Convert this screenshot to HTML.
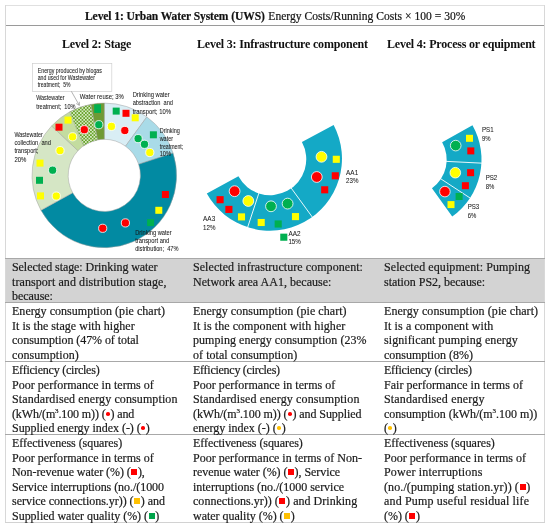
<!DOCTYPE html>
<html><head><meta charset="utf-8">
<style>
html,body{margin:0;padding:0;background:#fff;}
body{width:550px;height:528px;position:relative;overflow:hidden;font-family:"Liberation Serif",serif;color:#1a1a1a;}
.hl{position:absolute;height:1px;}
.vl{position:absolute;width:1px;}
.t{position:absolute;font-size:12px;line-height:14.5px;white-space:nowrap;will-change:transform;-webkit-text-stroke:0.2px #1a1a1a;}
.h{position:absolute;font-weight:bold;font-size:12px;letter-spacing:-0.2px;white-space:nowrap;color:#111;will-change:transform}
.d{display:inline-block;width:3.6px;height:3.6px;border-radius:50%;vertical-align:2px;margin:0 0.7px;}
.s{display:inline-block;width:6px;height:6px;vertical-align:1px;margin:0 0.6px;}
.r{background:#f00;} .y{background:#ffc000;} .g{background:#00a44a;}
svg{position:absolute;left:0;top:0;}
</style></head><body>
<!-- table lines -->
<div class="hl" style="left:5px;top:5px;width:540px;background:#e0e0e0"></div>
<div class="hl" style="left:5px;top:25px;width:540px;background:#9a9a9a"></div>
<div class="vl" style="left:5px;top:5px;height:518px;background:#d8d8d8"></div>
<div class="vl" style="left:544px;top:5px;height:518px;background:#d8d8d8"></div>
<div style="position:absolute;left:6px;top:258px;width:538px;height:44px;background:#d3d3d3;"></div>
<div class="hl" style="left:5px;top:258px;width:540px;background:#a8a8a8"></div>
<div class="hl" style="left:5px;top:302px;width:540px;background:#a8a8a8"></div>
<div class="hl" style="left:5px;top:361px;width:540px;background:#a8a8a8"></div>
<div class="hl" style="left:5px;top:434px;width:540px;background:#a8a8a8"></div>
<div class="hl" style="left:5px;top:522px;width:540px;background:#d2d2d2"></div>

<!-- header -->
<div class="t" style="left:85px;top:9px;font-size:11.55px;color:#111"><b style="letter-spacing:-0.09px">Level 1: Urban Water System (UWS)</b><span style="letter-spacing:0.02px;margin-left:0.7px"> Energy Costs/Running Costs × 100 = 30%</span></div>
<div class="h" style="left:62px;top:36.5px;">Level 2: Stage</div>
<div class="h" style="left:197px;top:36.5px;">Level 3: Infrastructure component</div>
<div class="h" style="left:387px;top:36.5px;">Level 4: Process or equipment</div>

<!-- table text -->
<div class="t" style="left:11.5px;top:260.0px;letter-spacing:-0.069px">Selected stage: Drinking water</div>
<div class="t" style="left:11.5px;top:274.5px;letter-spacing:0.078px">transport and distribution stage,</div>
<div class="t" style="left:11.5px;top:289.0px;letter-spacing:-0.057px">because:</div>
<div class="t" style="left:192.75px;top:260.0px;letter-spacing:0.061px">Selected infrastructure component:</div>
<div class="t" style="left:192.75px;top:274.5px;letter-spacing:0.020px">Network area AA1, because:</div>
<div class="t" style="left:383.5px;top:260.0px;letter-spacing:0.077px">Selected equipment: Pumping</div>
<div class="t" style="left:383.5px;top:274.5px;letter-spacing:-0.025px">station PS2, because:</div>
<div class="t" style="left:11.5px;top:304.0px;letter-spacing:0.034px">Energy consumption (pie chart)</div>
<div class="t" style="left:11.5px;top:318.5px;letter-spacing:0.038px">It is the stage with higher</div>
<div class="t" style="left:11.5px;top:333.0px;letter-spacing:-0.062px">consumption (47% of total</div>
<div class="t" style="left:11.5px;top:347.5px;letter-spacing:0.073px">consumption)</div>
<div class="t" style="left:192.75px;top:304.0px;letter-spacing:0.052px">Energy consumption (pie chart)</div>
<div class="t" style="left:192.75px;top:318.5px;letter-spacing:0.067px">It is the component with higher</div>
<div class="t" style="left:192.75px;top:333.0px;letter-spacing:0.050px">pumping energy consumption (23%</div>
<div class="t" style="left:192.75px;top:347.5px;letter-spacing:0.050px">of total consumption)</div>
<div class="t" style="left:383.5px;top:304.0px;letter-spacing:0.069px">Energy consumption (pie chart)</div>
<div class="t" style="left:383.5px;top:318.5px;letter-spacing:0.095px">It is a component with</div>
<div class="t" style="left:383.5px;top:333.0px;letter-spacing:0.080px">significant pumping energy</div>
<div class="t" style="left:383.5px;top:347.5px;letter-spacing:0.000px">consumption (8%)</div>
<div class="t" style="left:11.5px;top:363.0px;letter-spacing:-0.232px">Efficiency (circles)</div>
<div class="t" style="left:11.5px;top:377.5px;letter-spacing:0.019px">Poor performance in terms of</div>
<div class="t" style="left:11.5px;top:392.0px;letter-spacing:0.100px">Standardised energy consumption</div>
<div class="t" style="left:11.5px;top:406.5px;letter-spacing:-0.127px">(kWh/(m<sup style="font-size:7px;line-height:0">3</sup>.100 m)) (<span class="d r"></span>) and</div>
<div class="t" style="left:11.5px;top:421.0px;letter-spacing:-0.037px">Supplied energy index (-) (<span class="d r"></span>)</div>
<div class="t" style="left:192.75px;top:363.0px;letter-spacing:-0.263px">Efficiency (circles)</div>
<div class="t" style="left:192.75px;top:377.5px;letter-spacing:0.037px">Poor performance in terms of</div>
<div class="t" style="left:192.75px;top:392.0px;letter-spacing:0.133px">Standardised energy consumption</div>
<div class="t" style="left:192.75px;top:406.5px;letter-spacing:-0.077px">(kWh/(m<sup style="font-size:7px;line-height:0">3</sup>.100 m)) (<span class="d r"></span>) and Supplied</div>
<div class="t" style="left:192.75px;top:421.0px;letter-spacing:-0.022px">energy index (-) (<span class="d y"></span>)</div>
<div class="t" style="left:383.5px;top:363.0px;letter-spacing:-0.211px">Efficiency (circles)</div>
<div class="t" style="left:383.5px;top:377.5px;letter-spacing:0.037px">Fair performance in terms of</div>
<div class="t" style="left:383.5px;top:392.0px;letter-spacing:0.167px">Standardised energy</div>
<div class="t" style="left:383.5px;top:406.5px;letter-spacing:-0.022px">consumption (kWh/(m<sup style="font-size:7px;line-height:0">3</sup>.100 m))</div>
<div class="t" style="left:383.5px;top:421.0px;letter-spacing:-0.300px">(<span class="d y"></span>)</div>
<div class="t" style="left:11.5px;top:436.0px;letter-spacing:-0.055px">Effectiveness (squares)</div>
<div class="t" style="left:11.5px;top:450.5px;letter-spacing:0.015px">Poor performance in terms of</div>
<div class="t" style="left:11.5px;top:465.0px;letter-spacing:-0.067px">Non-revenue water (%) (<span class="s r"></span>),</div>
<div class="t" style="left:11.5px;top:479.5px;letter-spacing:-0.052px">Service interruptions (no./(1000</div>
<div class="t" style="left:11.5px;top:494.0px;letter-spacing:-0.027px">service connections.yr)) (<span class="s y"></span>) and</div>
<div class="t" style="left:11.5px;top:508.5px;letter-spacing:-0.021px">Supplied water quality (%) (<span class="s g"></span>)</div>
<div class="t" style="left:192.75px;top:436.0px;letter-spacing:-0.073px">Effectiveness (squares)</div>
<div class="t" style="left:192.75px;top:450.5px;letter-spacing:0.000px">Poor performance in terms of Non-</div>
<div class="t" style="left:192.75px;top:465.0px;letter-spacing:-0.064px">revenue water (%) (<span class="s r"></span>), Service</div>
<div class="t" style="left:192.75px;top:479.5px;letter-spacing:-0.019px">interruptions (no./(1000 service</div>
<div class="t" style="left:192.75px;top:494.0px;letter-spacing:0.032px">connections.yr)) (<span class="s r"></span>) and Drinking</div>
<div class="t" style="left:192.75px;top:508.5px;letter-spacing:-0.021px">water quality (%) (<span class="s y"></span>)</div>
<div class="t" style="left:383.5px;top:436.0px;letter-spacing:-0.027px">Effectiveness (squares)</div>
<div class="t" style="left:383.5px;top:450.5px;letter-spacing:0.030px">Poor performance in terms of</div>
<div class="t" style="left:383.5px;top:465.0px;letter-spacing:0.189px">Power interruptions</div>
<div class="t" style="left:383.5px;top:479.5px;letter-spacing:0.107px">(no./(pumping station.yr)) (<span class="s r"></span>)</div>
<div class="t" style="left:383.5px;top:494.0px;letter-spacing:0.157px">and Pump useful residual life</div>
<div class="t" style="left:383.5px;top:508.5px;letter-spacing:-0.050px">(%) (<span class="s r"></span>)</div>

<!-- CHARTS -->
<svg width="550" height="528" viewBox="0 0 550 528" style="position:absolute;left:0;top:0">
<defs><pattern id="chk" width="3.4" height="3.4" patternUnits="userSpaceOnUse">
<rect width="3.4" height="3.4" fill="#d8eac6"/><rect width="1.7" height="1.7" fill="#64a126"/><rect x="1.7" y="1.7" width="1.7" height="1.7" fill="#64a126"/></pattern></defs>
<path d="M104.30,103.10 A72.3,72.3 0 0 1 146.80,116.91 L125.52,146.19 A36.1,36.1 0 0 0 104.30,139.30 Z" fill="#d9eef5" stroke="#a0a0a0" stroke-width="0.5" />
<path d="M146.80,116.91 A72.3,72.3 0 0 1 173.06,153.06 L138.63,164.24 A36.1,36.1 0 0 0 125.52,146.19 Z" fill="#a9dbe8" stroke="#a0a0a0" stroke-width="0.5" />
<path d="M173.06,153.06 A72.3,72.3 0 0 1 40.94,210.23 L72.67,192.79 A36.1,36.1 0 0 0 138.63,164.24 Z" fill="#028aa2" stroke="#a0a0a0" stroke-width="0.5" />
<path d="M40.94,210.23 A72.3,72.3 0 0 1 51.60,125.91 L77.98,150.69 A36.1,36.1 0 0 0 72.67,192.79 Z" fill="#d5e6c5" stroke="#a0a0a0" stroke-width="0.5" />
<path d="M51.60,125.91 A72.3,72.3 0 0 1 90.75,104.38 L97.54,139.94 A36.1,36.1 0 0 0 77.98,150.69 Z" fill="#c3dc9f" stroke="#a0a0a0" stroke-width="0.5" />
<path d="M90.75,104.38 A72.3,72.3 0 0 1 104.30,103.10 L104.30,139.30 A36.1,36.1 0 0 0 97.54,139.94 Z" fill="#6f9a35" stroke="#a0a0a0" stroke-width="0.5" />
<path d="M69.69,111.92 A72.3,72.3 0 0 1 90.75,104.38 L97.54,139.94 A36.1,36.1 0 0 0 83.59,145.83 Z" fill="url(#chk)" stroke="#a0a0a0" stroke-width="0.4"/>
<rect x="112.70" y="107.60" width="7.0" height="7.0" fill="#00b050"/>
<rect x="122.50" y="109.80" width="7.0" height="7.0" fill="#ff0000"/>
<rect x="131.70" y="114.30" width="7.0" height="7.0" fill="#ffff00"/>
<circle cx="111.4" cy="126.4" r="4.1" fill="#ffff00" stroke="#fff" stroke-width="0.8"/>
<circle cx="124.8" cy="130.5" r="4.1" fill="#ff0000" stroke="#fff" stroke-width="0.8"/>
<rect x="149.90" y="131.30" width="7.0" height="7.0" fill="#00b050"/>
<circle cx="138.1" cy="138.6" r="4.1" fill="#00b050" stroke="#fff" stroke-width="0.8"/>
<circle cx="144.5" cy="144.3" r="4.1" fill="#00b050" stroke="#fff" stroke-width="0.8"/>
<circle cx="149.8" cy="152.5" r="4.1" fill="#ffff00" stroke="#fff" stroke-width="0.8"/>
<rect x="161.90" y="191.00" width="7.0" height="7.0" fill="#ff0000"/>
<rect x="155.30" y="206.80" width="7.0" height="7.0" fill="#ffff00"/>
<rect x="147.10" y="219.10" width="7.0" height="7.0" fill="#00b050"/>
<circle cx="125.4" cy="222.9" r="4.1" fill="#ff0000" stroke="#fff" stroke-width="0.8"/>
<circle cx="102.7" cy="228.3" r="4.1" fill="#ff0000" stroke="#fff" stroke-width="0.8"/>
<circle cx="60" cy="150.6" r="4.1" fill="#ffff00" stroke="#fff" stroke-width="0.8"/>
<rect x="36.50" y="159.60" width="7.0" height="7.0" fill="#ffff00"/>
<circle cx="52.6" cy="170.2" r="4.1" fill="#00b050" stroke="#fff" stroke-width="0.8"/>
<rect x="36.00" y="176.80" width="7.0" height="7.0" fill="#00b050"/>
<rect x="37.00" y="192.40" width="7.0" height="7.0" fill="#ffff00"/>
<circle cx="56.3" cy="196.1" r="4.1" fill="#ffff00" stroke="#fff" stroke-width="0.8"/>
<rect x="64.50" y="116.60" width="7.0" height="7.0" fill="#ffff00"/>
<rect x="55.50" y="123.70" width="7.0" height="7.0" fill="#ff0000"/>
<circle cx="72.6" cy="136.8" r="4.1" fill="#ffff00" stroke="#fff" stroke-width="0.8"/>
<circle cx="84.3" cy="129.7" r="4.1" fill="#ff0000" stroke="#fff" stroke-width="0.8"/>
<rect x="94.19999999999999" y="104.3" width="6.8" height="8.6" fill="#00b050"/>
<circle cx="98.8" cy="124.7" r="4.1" fill="#00b050" stroke="#fff" stroke-width="0.8"/>
<rect x="32.4" y="63.5" width="79.4" height="27.9" fill="#fff" stroke="#cfcfcf" stroke-width="0.7"/>
<line x1="71.4" y1="91.4" x2="79.3" y2="105.3" stroke="#808080" stroke-width="0.6"/><polyline points="76.2,103.5 79.3,105.3 79.4,101.8" fill="none" stroke="#808080" stroke-width="0.6"/>
<g font-family="Liberation Sans" fill="#1a1a1a" stroke="#1a1a1a" stroke-width="0.06">
<text x="37.7" y="72.5" font-size="6.6" textLength="64.2" lengthAdjust="spacingAndGlyphs">Energy produced by biogas</text>
<text x="37.7" y="79.6" font-size="6.6" textLength="57.2" lengthAdjust="spacingAndGlyphs">and used for Wastewater</text>
<text x="37.7" y="86.8" font-size="6.6" textLength="32.8" lengthAdjust="spacingAndGlyphs">treatment;&#160; 5%</text>
<text x="36.2" y="99.6" font-size="6.6" textLength="28.3" lengthAdjust="spacingAndGlyphs">Wastewater</text>
<text x="36.2" y="108.5" font-size="6.6" textLength="39.3" lengthAdjust="spacingAndGlyphs">treatment;&#160; 10%</text>
<text x="79.8" y="98.8" font-size="6.6" textLength="44.1" lengthAdjust="spacingAndGlyphs">Water reuse; 3%</text>
<text x="132.7" y="97.2" font-size="6.6" textLength="36.9" lengthAdjust="spacingAndGlyphs">Drinking water</text>
<text x="132.7" y="105.2" font-size="6.6" textLength="40.3" lengthAdjust="spacingAndGlyphs">abstraction&#160; and</text>
<text x="132.7" y="113.5" font-size="6.6" textLength="38.2" lengthAdjust="spacingAndGlyphs">transport; 10%</text>
<text x="159.7" y="133" font-size="6.6" textLength="20.1" lengthAdjust="spacingAndGlyphs">Drinking</text>
<text x="159.7" y="141.1" font-size="6.6" textLength="13.3" lengthAdjust="spacingAndGlyphs">water</text>
<text x="159.7" y="148.8" font-size="6.6" textLength="23.5" lengthAdjust="spacingAndGlyphs">treatment;</text>
<text x="159.7" y="156.3" font-size="6.6" textLength="11.2" lengthAdjust="spacingAndGlyphs">10%</text>
<text x="14.4" y="136.9" font-size="6.6" textLength="28.3" lengthAdjust="spacingAndGlyphs">Wastewater</text>
<text x="14.4" y="145" font-size="6.6" textLength="36.6" lengthAdjust="spacingAndGlyphs">collection&#160; and</text>
<text x="14.4" y="153.3" font-size="6.6" textLength="24" lengthAdjust="spacingAndGlyphs">transport;</text>
<text x="14.4" y="161.6" font-size="6.6" textLength="12" lengthAdjust="spacingAndGlyphs">20%</text>
<text x="135.2" y="234.6" font-size="6.6" textLength="36.5" lengthAdjust="spacingAndGlyphs">Drinking water</text>
<text x="135.2" y="243" font-size="6.6" textLength="34.1" lengthAdjust="spacingAndGlyphs">transport and</text>
<text x="135.2" y="251.2" font-size="6.6" textLength="43.3" lengthAdjust="spacingAndGlyphs">distribution;&#160; 47%</text>
</g>
<path d="M333.64,124.93 A72.1,72.1 0 0 1 206.80,193.51 L238.40,176.28 A36.1,36.1 0 0 0 301.92,141.94 Z" fill="#14a9c6" stroke="none" stroke-width="0.6" />
<line x1="312.77" y1="217.73" x2="291.03" y2="187.80" stroke="#ffffff" stroke-width="0.9"/>
<line x1="247.42" y1="227.97" x2="258.98" y2="192.82" stroke="#ffffff" stroke-width="0.9"/>
<circle cx="321.5" cy="156.8" r="5.4" fill="#ffff00" stroke="#fff" stroke-width="0.8"/>
<rect x="332.75" y="155.75" width="7.1" height="7.1" fill="#ffff00"/>
<circle cx="316.8" cy="177" r="5.4" fill="#ff0000" stroke="#fff" stroke-width="0.8"/>
<rect x="331.75" y="172.25" width="7.1" height="7.1" fill="#ff0000"/>
<rect x="321.15" y="186.25" width="7.1" height="7.1" fill="#ff0000"/>
<circle cx="271" cy="206.3" r="5.4" fill="#00b050" stroke="#fff" stroke-width="0.8"/>
<circle cx="287.6" cy="203.6" r="5.4" fill="#00b050" stroke="#fff" stroke-width="0.8"/>
<rect x="257.65" y="218.95" width="7.1" height="7.1" fill="#ffff00"/>
<rect x="274.65" y="220.45" width="7.1" height="7.1" fill="#00b050"/>
<rect x="291.95" y="213.05" width="7.1" height="7.1" fill="#ffff00"/>
<rect x="280.25" y="233.65" width="7.1" height="7.1" fill="#00b050"/>
<circle cx="234.6" cy="191.2" r="5.4" fill="#ff0000" stroke="#fff" stroke-width="0.8"/>
<circle cx="248.3" cy="201" r="5.4" fill="#ffff00" stroke="#fff" stroke-width="0.8"/>
<rect x="216.55" y="196.15" width="7.1" height="7.1" fill="#ff0000"/>
<rect x="225.35" y="205.85" width="7.1" height="7.1" fill="#ff0000"/>
<rect x="237.95" y="213.35" width="7.1" height="7.1" fill="#ffff00"/>
<path d="M472.47,125.19 A70.1,70.1 0 0 1 452.21,216.60 L431.95,188.30 A35.3,35.3 0 0 0 442.15,142.27 Z" fill="#14a9c6" stroke="none" stroke-width="0.6" />
<line x1="481.91" y1="163.17" x2="446.16" y2="161.36" stroke="#ffffff" stroke-width="0.9"/>
<line x1="470.48" y1="198.26" x2="440.52" y2="178.66" stroke="#ffffff" stroke-width="0.9"/>
<circle cx="455.7" cy="145.6" r="5.3" fill="#00b050" stroke="#fff" stroke-width="0.8"/>
<rect x="466.00" y="134.80" width="7.0" height="7.0" fill="#ffff00"/>
<rect x="467.30" y="147.40" width="7.0" height="7.0" fill="#ff0000"/>
<circle cx="455.3" cy="172.7" r="5.3" fill="#ffff00" stroke="#fff" stroke-width="0.8"/>
<rect x="467.10" y="169.20" width="7.0" height="7.0" fill="#ff0000"/>
<rect x="461.90" y="182.20" width="7.0" height="7.0" fill="#ff0000"/>
<circle cx="444.9" cy="191.6" r="5.3" fill="#ff0000" stroke="#fff" stroke-width="0.8"/>
<rect x="455.60" y="193.00" width="7.0" height="7.0" fill="#00b050"/>
<rect x="447.50" y="201.10" width="7.0" height="7.0" fill="#ffff00"/>
<g font-family="Liberation Sans" fill="#1a1a1a" stroke="#1a1a1a" stroke-width="0.06">
<text x="346.09999999999997" y="174.5" font-size="7.2" textLength="12.1" lengthAdjust="spacingAndGlyphs">AA1</text>
<text x="346.09999999999997" y="183.3" font-size="7.2" textLength="12.4" lengthAdjust="spacingAndGlyphs">23%</text>
<text x="288.4" y="236" font-size="7.2" textLength="12.1" lengthAdjust="spacingAndGlyphs">AA2</text>
<text x="288.4" y="244" font-size="7.2" textLength="12.4" lengthAdjust="spacingAndGlyphs">15%</text>
<text x="203.1" y="221.1" font-size="7.2" textLength="12.1" lengthAdjust="spacingAndGlyphs">AA3</text>
<text x="203.1" y="229.7" font-size="7.2" textLength="12.4" lengthAdjust="spacingAndGlyphs">12%</text>
<text x="482.0" y="132.3" font-size="7.2" textLength="11.6" lengthAdjust="spacingAndGlyphs">PS1</text>
<text x="482.0" y="140.8" font-size="7.2" textLength="8.6" lengthAdjust="spacingAndGlyphs">9%</text>
<text x="485.7" y="180.2" font-size="7.2" textLength="11.6" lengthAdjust="spacingAndGlyphs">PS2</text>
<text x="485.7" y="188.6" font-size="7.2" textLength="8.6" lengthAdjust="spacingAndGlyphs">8%</text>
<text x="467.7" y="209.4" font-size="7.2" textLength="11.6" lengthAdjust="spacingAndGlyphs">PS3</text>
<text x="467.7" y="217.5" font-size="7.2" textLength="8.6" lengthAdjust="spacingAndGlyphs">6%</text>
</g>
</svg>
</body></html>
